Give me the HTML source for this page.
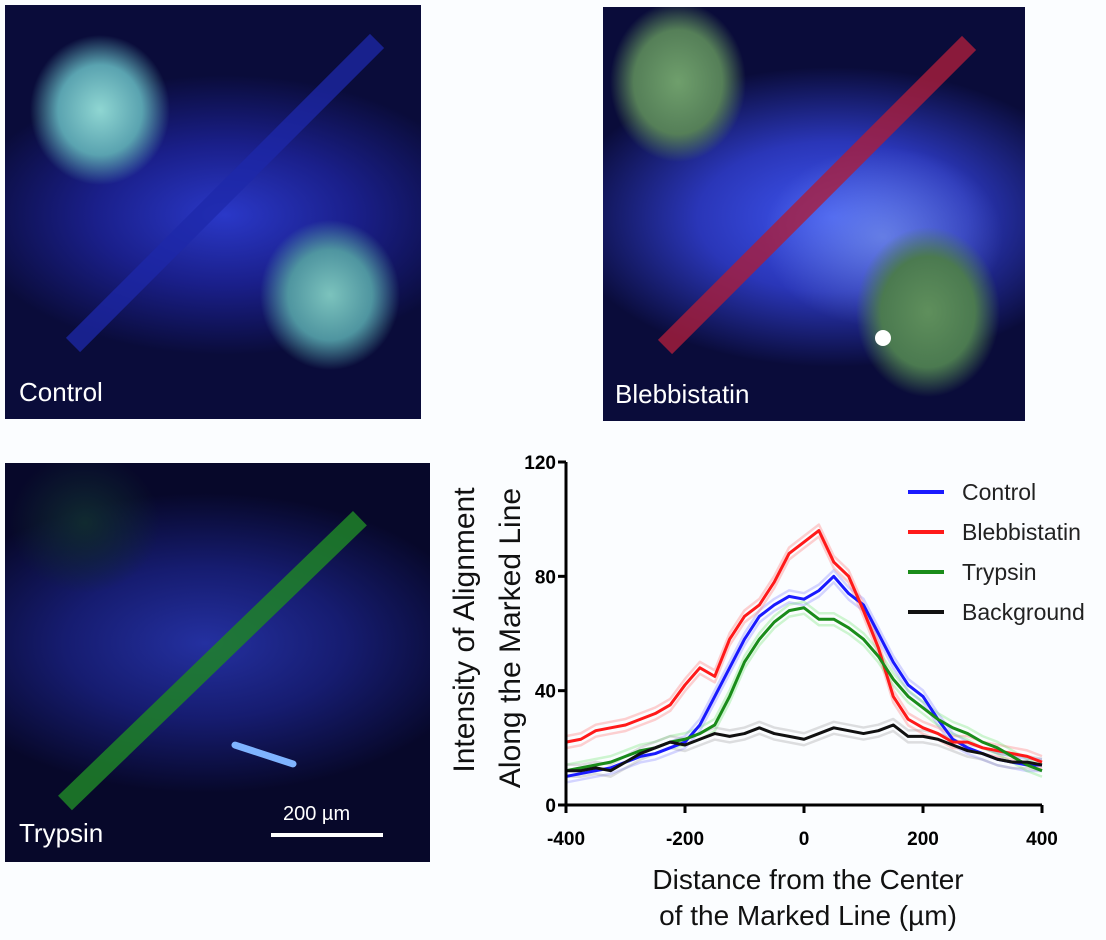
<!DOCTYPE html>
<html><head><meta charset="utf-8">
<style>
body{margin:0;width:1106px;height:940px;background:#fbfdff;position:relative;overflow:hidden;font-family:"Liberation Sans",sans-serif}
.panel{position:absolute;overflow:hidden}
.lbl{position:absolute;color:#fff;font-size:26px}
.bar{position:absolute;transform-origin:0 50%}
</style></head><body>
<div class="panel" style="left:5px;top:5px;width:416px;height:414px;background:
radial-gradient(ellipse 70px 75px at 95px 105px,#8fd6d2 0%,#5aa3b0 60%,rgba(20,30,90,0) 100%),
radial-gradient(ellipse 70px 75px at 325px 290px,#7cc3bd 0%,#4f95a0 60%,rgba(20,30,90,0) 100%),
radial-gradient(ellipse 260px 140px at 220px 210px,#2a38c8 0%,#1a1f8a 50%,rgba(8,10,50,0) 100%),
#0a0c3a">
<div class="bar" style="left:68px;top:330px;width:430px;height:20px;background:rgba(30,40,170,.75);transform:rotate(-45deg)"></div>
<div class="lbl" style="left:14px;top:372px">Control</div></div>

<div class="panel" style="left:603px;top:7px;width:422px;height:414px;background:
radial-gradient(ellipse 68px 80px at 75px 75px,#6f9f6c 0%,#557f58 65%,rgba(20,30,90,0) 100%),
radial-gradient(ellipse 72px 85px at 325px 305px,#5f8f5c 0%,#4b7a50 65%,rgba(20,30,90,0) 100%),
radial-gradient(ellipse 120px 90px at 280px 230px,rgba(140,170,240,.55) 0%,rgba(60,80,220,0) 100%),
radial-gradient(ellipse 270px 150px at 230px 210px,#3e55f0 0%,#2a36b8 50%,rgba(8,10,50,0) 100%),
#0a0c3a">
<div class="bar" style="left:62px;top:330px;width:430px;height:20px;background:rgba(170,30,60,.8);transform:rotate(-45deg)"></div>
<div style="position:absolute;left:272px;top:323px;width:16px;height:16px;border-radius:50%;background:#fff"></div>
<div class="lbl" style="left:12px;top:372px">Blebbistatin</div></div>

<div class="panel" style="left:5px;top:463px;width:425px;height:399px;background:
radial-gradient(ellipse 75px 70px at 80px 60px,#102a30 0%,rgba(10,15,50,0) 100%),
radial-gradient(ellipse 280px 150px at 200px 180px,#2430a0 0%,#161c70 50%,rgba(8,10,40,0) 100%),
#07082a">
<div class="bar" style="left:60px;top:330px;width:410px;height:20px;background:rgba(30,130,40,.85);transform:rotate(-44deg)"></div>
<div style="position:absolute;left:225px;top:288px;width:68px;height:7px;border-radius:4px;background:#7fb4ff;transform:rotate(18deg)"></div>
<div class="lbl" style="left:14px;top:355px">Trypsin</div>
<div style="position:absolute;left:266px;top:370px;width:112px;height:4px;background:#fff"></div>
<div class="lbl" style="left:278px;top:340px;font-size:20px">200 µm</div></div>

<svg id="chart" width="1106" height="940" style="position:absolute;left:0;top:0"></svg>
<script>
const xs=[-400,-375,-350,-325,-300,-275,-250,-225,-200,-175,-150,-125,-100,-75,-50,-25,0,25,50,75,100,125,150,175,200,225,250,275,300,325,350,375,400];
const control=[10,11,12,13,15,17,18,20,22,28,38,48,58,66,70,73,72,75,80,74,70,60,50,42,38,30,23,20,18,16,15,14,14];
const blebbistatin=[22,23,26,27,28,30,32,35,42,48,45,58,66,70,78,88,92,96,85,80,68,55,38,30,27,25,22,22,20,19,18,17,15];
const trypsin=[12,13,14,15,17,19,20,22,23,25,28,38,50,58,64,68,69,65,65,62,58,52,44,38,34,30,27,25,22,20,17,14,12];
const background=[12,12,13,12,15,18,20,22,21,23,25,24,25,27,25,24,23,25,27,26,25,26,28,24,24,23,21,19,18,16,15,15,14];
const xTicks=[-400,-200,0,200,400];
const yTicks=[0,40,80,120];
const seriesNames=["Control","Blebbistatin","Trypsin","Background"];
const X=v=>566+(v+400)/800*476;
const Y=v=>805-v/120*343;
const svg=document.getElementById('chart');
const NS='http://www.w3.org/2000/svg';
function mk(t,a){const e=document.createElementNS(NS,t);for(const k in a)e.setAttribute(k,a[k]);svg.appendChild(e);return e;}
const cols=["#1a1aff","#ff1a1a","#1a8c1a","#111"];
const bands=["rgba(120,120,255,.3)","rgba(255,120,120,.35)","rgba(120,230,120,.35)","rgba(150,150,150,.3)"];
const data=[control,blebbistatin,trypsin,background];
data.forEach((d,i)=>{
 [-6,6].forEach(off=>{
 const pts=xs.map((x,j)=>X(x)+','+(Y(d[j])+off)).join(' ');
 const b=mk('polyline',{points:pts,fill:'none',stroke:bands[i],'stroke-width':2.5,'stroke-linejoin':'round'});
 
 
 });
});
data.forEach((d,i)=>{
 const pts=xs.map((x,j)=>X(x)+','+Y(d[j])).join(' ');
 const l=mk('polyline',{points:pts,fill:'none',stroke:cols[i],'stroke-width':3,'stroke-linejoin':'round'});
 
 
});
const ax=mk('path',{d:`M${X(-400)},${Y(120)}V${Y(0)}H${X(400)}`,fill:'none',stroke:'#000','stroke-width':3});


xTicks.forEach(t=>{
 mk('line',{x1:X(t),x2:X(t),y1:Y(0),y2:Y(0)+8,stroke:'#000','stroke-width':3});
 const e=mk('text',{x:X(t),y:845,'text-anchor':'middle','font-size':19,'font-weight':'bold','font-family':'Liberation Sans'});
 e.textContent=t;
 
 
});
yTicks.forEach(t=>{
 mk('line',{x1:X(-400)-8,x2:X(-400),y1:Y(t),y2:Y(t),stroke:'#000','stroke-width':3});
 const e=mk('text',{x:X(-400)-10,y:Y(t)+7,'text-anchor':'end','font-size':19,'font-weight':'bold','font-family':'Liberation Sans'});
 e.textContent=t;
 
 
});
seriesNames.forEach((n,i)=>{
 const y=492+i*40;
 mk('line',{x1:908,x2:944,y1:y,y2:y,stroke:cols[i],'stroke-width':4});
 const e=mk('text',{x:962,y:y+8,'font-size':23,fill:'#222','font-family':'Liberation Sans'});
 e.textContent=n;
 
 
});
function txt(s,x,y,rot,name,fs){const e=mk('text',{x:x,y:y,'text-anchor':'middle','font-size':fs,fill:'#111','font-family':'Liberation Sans'});if(rot)e.setAttribute('transform',`rotate(-90 ${x} ${y})`);e.textContent=s;}
txt('Intensity of Alignment',474,630,true,'y-axis-title-line1',30);
txt('Along the Marked Line',520,638,true,'y-axis-title-line2',30);
txt('Distance from the Center',808,889,false,'x-axis-title-line1',28);
txt('of the Marked Line (µm)',808,925,false,'x-axis-title-line2',28);
</script>
</body></html>
